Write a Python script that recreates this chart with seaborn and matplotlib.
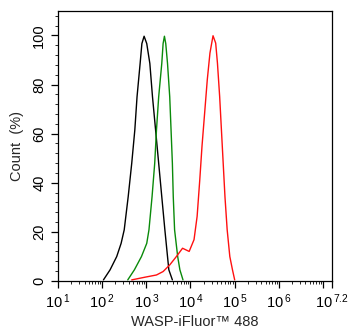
import numpy as np
import pandas as pd
import seaborn as sns
import matplotlib
matplotlib.use("Agg")
import matplotlib.pyplot as plt
from matplotlib.ticker import FixedLocator, NullFormatter

# histogram curves, log10 of fluorescence vs count (%)
black_logx = [2.03, 2.18, 2.33, 2.43, 2.50, 2.59, 2.67, 2.74, 2.79, 2.86, 2.90, 2.95,
              3.01, 3.08, 3.14, 3.21, 3.28, 3.35, 3.42, 3.48, 3.51, 3.59]
black_y = [0.4, 4.5, 9.9, 15.3, 20.8, 34.3, 47.9, 61.5, 75, 88.6, 96.7, 99.7,
           96.7, 88.6, 75, 61.5, 47.9, 34.3, 20.8, 9.9, 4.5, 0.4]

green_logx = [2.58, 2.73, 2.89, 3.01, 3.06, 3.13, 3.19, 3.23, 3.28, 3.35, 3.38, 3.41,
              3.44, 3.48, 3.53, 3.56, 3.59, 3.61, 3.64, 3.71, 3.76, 3.83]
green_y = [0.4, 4.5, 9.9, 15.3, 20.8, 34.3, 47.9, 61.5, 75, 88.6, 96.7, 99.7,
           96.7, 88.6, 75, 61.5, 47.9, 34.3, 20.8, 9.9, 4.5, 0.4]

red_logx = [2.67, 2.97, 3.23, 3.38, 3.53, 3.68, 3.82, 3.97, 4.08, 4.15, 4.21, 4.26,
            4.32, 4.38, 4.44, 4.48, 4.51, 4.57, 4.61, 4.66, 4.70, 4.74, 4.78,
            4.83, 4.89, 4.95, 5.00]
red_y = [0.4, 1.5, 2.4, 3.8, 6.5, 9.9, 13.3, 12.0, 16.8, 26.3, 41.2, 54.8,
         68.4, 82, 92.8, 96.9, 99.9, 96.9, 88.7, 75.1, 61.5, 47.9, 34.3,
         20.8, 9.9, 4.5, 0.4]

xtick_exp = [1, 2, 3, 4, 5, 6, 7.2]
xtick_labels = ["1", "2", "3", "4", "5", "6", "7.2"]
yticks = [0, 20, 40, 60, 80, 100]

sns.set_style("ticks")
plt.rcParams["font.family"] = ["Liberation Sans", "DejaVu Sans"]
plt.rcParams["mathtext.default"] = "regular"

fig = plt.figure(figsize=(3.49, 3.32), dpi=100)
ax = fig.add_axes([0.166, 0.154, 0.785, 0.813])

for lx, yy, col in [(black_logx, black_y, "black"),
                    (green_logx, green_y, "#0a8a0a"),
                    (red_logx, red_y, "#ff1010")]:
    d = pd.DataFrame({"x": np.power(10.0, lx), "y": yy})
    sns.lineplot(data=d, x="x", y="y", ax=ax, color=col, lw=1.0,
                 sort=False, estimator=None)

ax.set_xscale("log")
ax.set_xlim(10, 10 ** 7.2)
ax.set_ylim(0, 110)

major = sorted([10.0 ** e for e in xtick_exp] + [1e7])
ax.xaxis.set_major_locator(FixedLocator(major))
labels = {10.0 ** e: r"$10^{\,%s}$" % t for e, t in zip(xtick_exp, xtick_labels)}
ax.set_xticklabels([labels.get(v, "") for v in major])
minor = [m * 10.0 ** d for d in range(1, 7) for m in range(2, 10)]
ax.xaxis.set_minor_locator(FixedLocator(minor))
ax.xaxis.set_minor_formatter(NullFormatter())

ax.set_yticks(yticks)
ax.set_yticklabels([str(v) for v in yticks], rotation=90, va="center")
ax.set_yticks(np.arange(0, 111, 4), minor=True)

ax.tick_params(which="major", length=5, width=0.9, labelsize=10.5, colors="black")
ax.tick_params(which="minor", length=2.5, width=0.7)
for s in ax.spines.values():
    s.set_linewidth(0.9)
    s.set_color("black")

ax.set_xlabel("WASP-iFluor™ 488", fontsize=10.5, labelpad=3)
ax.set_ylabel("Count  (%)", fontsize=10.5, labelpad=6)

fig.savefig("out.png", dpi=100)
